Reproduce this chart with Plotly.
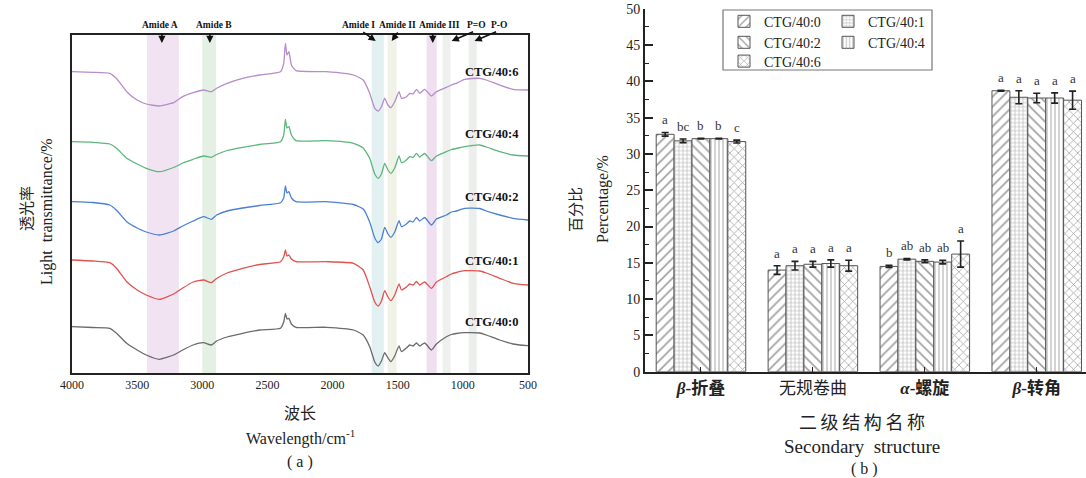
import plotly.graph_objects as go

SERIF = "Liberation Serif, Times New Roman, serif"
CJK = "Noto Sans CJK SC"
MIX = "Liberation Serif, Noto Sans CJK SC"

# ---------------- Panel (a): FTIR spectra ----------------
wavenumber = [4000, 3840, 3710, 3660, 3580, 3500, 3430, 3330, 3220, 3150, 3070, 2990, 2930, 2890,
              2810, 2690, 2560, 2400, 2375, 2362, 2350, 2335, 2316, 2280, 2050, 1840, 1765, 1715,
              1676, 1650, 1625, 1600, 1575, 1553, 1523, 1490, 1471, 1433, 1407, 1382, 1356, 1331,
              1293, 1241, 1203, 1126, 1088, 1050, 986, 870, 820, 717, 615, 500]

ctg_40_6 = [301.3, 300.7, 299.7, 294.7, 281.3, 273, 269, 267, 270.3, 276.3, 280.3, 283, 281.3, 284.7,
            289.7, 294.7, 298, 301.3, 309.7, 329.7, 318, 321.3, 308, 302.3, 301.3, 298, 293, 279.7,
            264.7, 262, 266.3, 274.7, 268, 265.3, 271.3, 281.3, 274.7, 276.3, 279.7, 279, 283.7, 279.7,
            283.7, 277, 281.3, 285.7, 288, 289.7, 293.7, 294.7, 293, 288, 283.7, 283]
ctg_40_4 = [231.3, 230.7, 229, 225, 214.7, 209, 204.7, 201.3, 205.5, 210, 213.7, 217, 215.7, 218.5,
            222.5, 225.7, 228.5, 231.3, 238, 253.7, 245, 246.3, 238, 232.3, 232.3, 229.7, 225, 214.7,
            199, 194.7, 199, 209.7, 203, 199.7, 205, 217, 210.3, 213, 216.5, 215.5, 219.7, 216,
            219.5, 212.3, 217, 221.3, 223.5, 224.5, 226.3, 228, 226, 221.3, 218, 217]
ctg_40_2 = [171.3, 170.5, 168, 163, 151.3, 145, 141, 138, 142, 147, 152, 156.3, 153.7, 158,
            162, 165, 167.5, 170.3, 175, 187, 180, 181.3, 175, 171.3, 171.3, 168.5, 164, 151,
            135, 130.3, 134, 145.7, 139, 135.7, 141, 152.3, 146.3, 149, 152, 151, 155.5, 152,
            155.5, 148, 154, 158, 161, 162, 164.7, 164.5, 162, 158, 154.7, 153]
ctg_40_1 = [113, 112, 110.3, 105, 91.3, 83, 78, 73.7, 79, 85, 91, 93, 90.3, 94.5,
            100, 104.7, 108.5, 111.3, 116, 123, 117, 118, 114, 111.3, 111.3, 109.7, 103, 86.3,
            71, 67, 72, 82.3, 76, 72.3, 78, 89, 83, 86, 89, 88, 91.5, 88,
            91, 84.7, 91, 96.3, 99, 100.5, 102.3, 102, 100, 94.7, 89.7, 88]
ctg_40_0 = [46.3, 45.5, 44.7, 40, 29.7, 23, 18, 13.7, 18, 23, 28, 30.3, 28, 32,
            36, 39.7, 43, 44.7, 51, 59.7, 54, 54.7, 49, 45.7, 45.7, 43, 38, 26.3,
            11, 7, 12, 20.3, 15, 11.3, 17, 27, 21.3, 25, 28, 27, 30, 27,
            30, 23, 29, 36.3, 38.5, 39.5, 40.3, 40, 38, 33, 29, 27.3]

spectra_names = ["CTG/40:0", "CTG/40:1", "CTG/40:2", "CTG/40:4", "CTG/40:6"]
spectra_values = [ctg_40_0, ctg_40_1, ctg_40_2, ctg_40_4, ctg_40_6]
spectra_colors = ["#6b6b6b", "#e2524f", "#4b80d2", "#5db67c", "#b68ccb"]
spectra_label_y = [51.3, 112.3, 175.7, 238.7, 301.3]
spectra_label_x = 779

band_names = ["Amide A", "Amide B", "Amide I", "Amide II", "Amide III", "P=O", "P-O"]
band_lo = [3180, 2895, 1607, 1508, 1201, 1094, 894]
band_hi = [3425, 3000, 1700, 1577, 1278, 1155, 955]
band_colors = ["#f1e3f1", "#e3f0e3", "#e3f0f2", "#f0f2e8", "#efdfef", "#eef0ee", "#ebeeeb"]
band_arrow_head = [3310, 2942, 1669, 1546, 1231, 1086, 910]
band_arrow_tail = [3310, 2942, 1776, 1492, 1231, 910, 733]
band_label_x = [3325, 2911, 1799, 1500, 1178, 894, 725]

wn_ticks = [4000, 3500, 3000, 2500, 2000, 1500, 1000, 500]

# ---------------- Panel (b): secondary structure ----------------
structure_labels = ["<b><i>β</i>-折叠</b>", "无规卷曲", "<b><i>α</i>-螺旋</b>", "<b><i>β</i>-转角</b>"]
structure_pos = [0, 1, 2, 3]
groups = ["CTG/40:0", "CTG/40:1", "CTG/40:2", "CTG/40:4", "CTG/40:6"]
pct_40_0 = [32.7, 14.0, 14.5, 38.7]
pct_40_1 = [31.8, 14.6, 15.5, 37.8]
pct_40_2 = [32.1, 14.8, 15.2, 37.7]
pct_40_4 = [32.1, 14.9, 15.1, 37.7]
pct_40_6 = [31.7, 14.6, 16.2, 37.4]
err_40_0 = [0.25, 0.6, 0.15, 0.05]
err_40_1 = [0.25, 0.6, 0.1, 0.9]
err_40_2 = [0.05, 0.4, 0.2, 0.65]
err_40_4 = [0.05, 0.5, 0.25, 0.7]
err_40_6 = [0.2, 0.75, 1.8, 1.25]
sig_40_0 = ["a", "a", "b", "a"]
sig_40_1 = ["bc", "a", "ab", "a"]
sig_40_2 = ["b", "a", "ab", "a"]
sig_40_4 = ["b", "a", "ab", "a"]
sig_40_6 = ["c", "a", "a", "a"]
pct_values = [pct_40_0, pct_40_1, pct_40_2, pct_40_4, pct_40_6]
err_values = [err_40_0, err_40_1, err_40_2, err_40_4, err_40_6]
sig_values = [sig_40_0, sig_40_1, sig_40_2, sig_40_4, sig_40_6]
patterns = ["/", "+", "\\", "|", "x"]
pattern_sizes = [7, 4, 7, 4, 6]

W, H = 1086, 478
def px_x(p):
    return p / W
def px_y(p):
    return 1 - p / H

fig = go.Figure()

# spectra
for name, vals, col in zip(spectra_names, spectra_values, spectra_colors):
    fig.add_trace(go.Scatter(x=wavenumber, y=vals, mode="lines", name=name,
                             line=dict(color=col, width=1.3, shape="spline", smoothing=0.5),
                             xaxis="x", yaxis="y", showlegend=False, hoverinfo="skip"))

# bars
bar_w = 0.8 / len(groups)
legend_ids = ["legend", "legend2", "legend3", "legend4", "legend5"]
annotations = []
for j, (g, vals, errs, sigs, pat, ps) in enumerate(zip(groups, pct_values, err_values, sig_values,
                                                        patterns, pattern_sizes)):
    fig.add_trace(go.Bar(x=structure_pos, y=vals, name=g, xaxis="x2", yaxis="y2",
                         marker=dict(color="white", line=dict(color="#555", width=1),
                                     pattern=dict(shape=pat, fgcolor="#444", bgcolor="white",
                                                  size=ps, solidity=0.24)),
                         error_y=dict(type="data", array=errs, color="#222", thickness=1.6, width=3.5),
                         legend=legend_ids[j]))
    off = -0.4 + bar_w * (j + 0.5)
    for xi, v, e, s in zip(structure_pos, vals, errs, sigs):
        annotations.append(dict(x=xi + off, y=v + e, xref="x2", yref="y2", text=s, showarrow=False,
                                xanchor="center", yanchor="bottom", yshift=3,
                                font=dict(family=SERIF, size=13, color="#333")))

# band shapes
shapes = []
for lo, hi, c in zip(band_lo, band_hi, band_colors):
    shapes.append(dict(type="rect", xref="x", yref="y domain", x0=lo, x1=hi, y0=0, y1=1,
                       fillcolor=c, line=dict(width=0), layer="below"))
# legend border
shapes.append(dict(type="rect", xref="paper", yref="paper", x0=px_x(723), x1=px_x(932),
                   y0=px_y(70), y1=px_y(10), line=dict(color="#777", width=1.2)))

# band labels and arrows
for nm, head, tail, lx in zip(band_names, band_arrow_head, band_arrow_tail, band_label_x):
    annotations.append(dict(x=lx, y=px_y(25), xref="x", yref="paper", text="<b>%s</b>" % nm,
                            showarrow=False, xanchor="center", yanchor="middle",
                            font=dict(family=SERIF, size=9.5, color="#111")))
    vertical = head == tail
    annotations.append(dict(x=head, y=px_y(43 if vertical else 41), xref="x", yref="paper",
                            ax=tail, axref="x", ay=-11 if vertical else -10, text="",
                            showarrow=True, arrowhead=2, arrowsize=0.9, arrowwidth=1.6,
                            arrowcolor="#111"))

# spectra labels
for nm, ly in zip(spectra_names, spectra_label_y):
    annotations.append(dict(x=spectra_label_x, y=ly, xref="x", yref="y", text="<b>%s</b>" % nm,
                            showarrow=False, xanchor="center", yanchor="middle",
                            font=dict(family=SERIF, size=12.5, color="#111")))

# axis titles as text
def txt(x, y, t, size, family=SERIF, angle=0):
    annotations.append(dict(x=px_x(x), y=px_y(y), xref="paper", yref="paper", text=t,
                            showarrow=False, textangle=angle, xanchor="center", yanchor="middle",
                            font=dict(family=family, size=size, color="#222")))

txt(25, 209, "透光率", 15, CJK, -90)
txt(47, 212, "Light  transmittance/%", 16, SERIF, -90)
txt(300, 412, "波长", 16, CJK)
txt(300, 437, "Wavelength/cm<sup>-1</sup>", 16, SERIF)
txt(300, 462, "( a )", 16, SERIF)
txt(574, 210, "百分比", 15, CJK, -90)
txt(603, 199, "Percentage/%", 16, SERIF, -90)
txt(862, 421, "二\u2009级\u2009结\u2009构\u2009名\u2009称", 18, CJK)
txt(862, 446, "Secondary  structure", 19, SERIF)
txt(864, 469, "( b )", 16, SERIF)

# legends (2-column grid inside one framed box)
leg_x = [724, 828, 724, 828, 724]
leg_y = [21.7, 21.7, 42.7, 42.7, 61.5]
legend_layout = {}
for lid, lx, ly in zip(legend_ids, leg_x, leg_y):
    legend_layout[lid] = dict(x=px_x(lx), y=px_y(ly), xanchor="left", yanchor="middle",
                              bgcolor="rgba(0,0,0,0)", borderwidth=0,
                              font=dict(family=SERIF, size=14, color="#222"))

fig.update_layout(
    width=W, height=H, margin=dict(l=0, r=0, t=0, b=0, autoexpand=False),
    paper_bgcolor="white", plot_bgcolor="white",
    barmode="group", bargap=0.2, bargroupgap=0,
    xaxis=dict(domain=[px_x(72), px_x(528)], range=[4000, 500], showgrid=False, zeroline=False,
               showline=True, linecolor="#222", linewidth=1.5, mirror=True, ticks="",
               tickvals=wn_ticks, tickfont=dict(family=SERIF, size=12, color="#222"),
               automargin=False),
    yaxis=dict(domain=[px_y(373), px_y(35)], range=[0, 338], showgrid=False, zeroline=False,
               showline=True, linecolor="#222", linewidth=1.5, mirror=True, ticks="",
               showticklabels=False, automargin=False),
    xaxis2=dict(domain=[px_x(645), 1], range=[-0.5, 3.44], anchor="y2", showgrid=False,
                zeroline=False, showline=True, linecolor="#222", linewidth=2,
                tickvals=structure_pos, ticktext=structure_labels, ticks="inside", ticklen=5,
                tickcolor="#222", tickfont=dict(family=MIX, size=17, color="#222"),
                automargin=False),
    yaxis2=dict(domain=[px_y(371.7), px_y(8.7)], range=[0, 50], anchor="x2", showgrid=False,
                zeroline=False, showline=True, linecolor="#222", linewidth=2, dtick=5,
                ticks="inside", ticklen=8, tickwidth=1.5, tickcolor="#222",
                minor=dict(ticks="inside", ticklen=4, dtick=2.5, tickcolor="#222", tickwidth=1.2),
                tickfont=dict(family=SERIF, size=14, color="#222"), automargin=False),
    shapes=shapes, annotations=annotations,
    **legend_layout,
)

fig.write_html("out.html", config={"displayModeBar": False},
               post_script="document.body.style.margin='0';document.body.style.padding='0';")
